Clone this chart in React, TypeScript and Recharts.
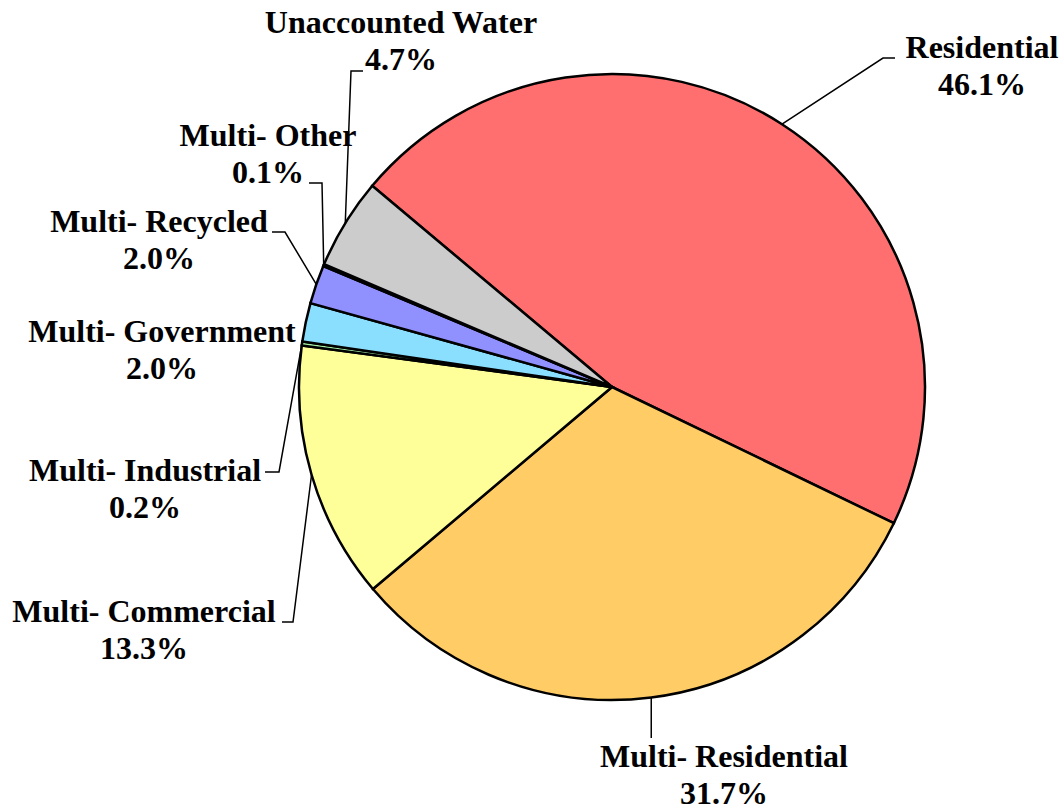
import { PieChart, Pie, Cell } from "recharts";

const CATEGORIES = [
  "Residential",
  "Multi- Residential",
  "Multi- Commercial",
  "Multi- Industrial",
  "Multi- Government",
  "Multi- Recycled",
  "Multi- Other",
  "Unaccounted Water",
];
const SHARES = [46.1, 31.7, 13.3, 0.2, 2.0, 2.0, 0.1, 4.7];
const COLORS = ["#FF6F6F", "#FFCC66", "#FFFF99", "#A6F0A6", "#8ADFFF", "#9090FF", "#333366", "#CCCCCC"];

const data = CATEGORIES.map((name, i) => ({ name, value: SHARES[i] }));

// label layout: text centre x, first baseline y, leader elbow + end (null = no leader)
const LABELS = [
  { x: 982, y: 58, elbow: [883, 58], end: [895, 58] },
  { x: 724, y: 767, elbow: null, end: [652, 738], vertical: true },
  { x: 144, y: 622, elbow: [293, 622], end: [282, 622] },
  { x: 145, y: 481, elbow: [279, 472], end: [265, 472] },
  { x: 162, y: 342, elbow: null, end: null },
  { x: 159, y: 232, elbow: [285, 232], end: [272, 232] },
  { x: 268, y: 146, elbow: [322, 183], end: [309, 183] },
  { x: 401, y: 33, elbow: [351, 71], end: [363, 71] },
];

const RADIAN = Math.PI / 180;
const FONT = '"Liberation Serif", "Times New Roman", "DejaVu Serif", serif';

const renderLabel = (props: any) => {
  const { cx, cy, midAngle, outerRadius, index, value, name } = props;
  const lay = LABELS[index];
  const sx = cx + outerRadius * Math.cos(-midAngle * RADIAN);
  const sy = cy + outerRadius * Math.sin(-midAngle * RADIAN);
  let pts = "";
  if (lay.end) {
    if (lay.vertical) pts = `${sx},${sy} ${sx},${lay.end[1]}`;
    else if (lay.elbow) pts = `${sx},${sy} ${lay.elbow[0]},${lay.elbow[1]} ${lay.end[0]},${lay.end[1]}`;
  }
  return (
    <g key={`lbl-${index}`}>
      {pts && <polyline points={pts} fill="none" stroke="#000" strokeWidth={1.5} />}
      <text
        x={lay.x}
        y={lay.y}
        textAnchor="middle"
        style={{ fontFamily: FONT, fontWeight: 700, fontSize: 32 }}
        fill="#000"
      >
        <tspan x={lay.x}>{name}</tspan>
        <tspan x={lay.x} dy={37}>{`${Number(value).toFixed(1)}%`}</tspan>
      </text>
    </g>
  );
};

export default function App() {
  return (
    <div style={{ position: "absolute", left: 0, top: 0, background: "#fff", fontFamily: FONT }}>
      <PieChart width={1064} height={811} margin={{ top: 0, right: 0, bottom: 0, left: 0 }}>
        <Pie
          data={data}
          dataKey="value"
          nameKey="name"
          cx={612}
          cy={387}
          outerRadius={313}
          startAngle={140}
          endAngle={-220}
          stroke="#000"
          strokeWidth={2.5}
          label={renderLabel}
          labelLine={false}
          isAnimationActive={false}
        >
          {data.map((d, i) => (
            <Cell key={d.name} fill={COLORS[i]} />
          ))}
        </Pie>
      </PieChart>
    </div>
  );
}
